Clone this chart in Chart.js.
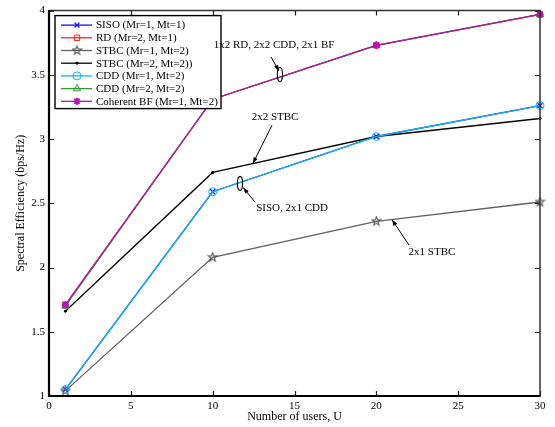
<!DOCTYPE html>
<html>
<head>
<meta charset="utf-8">
<script src="https://cdn.jsdelivr.net/npm/chart.js@4/dist/chart.umd.min.js"></script>
<style>
  html, body { margin: 0; padding: 0; background: #fff; }
  #wrap { width: 555px; height: 427px; }
</style>
</head>
<body>
<div id="wrap"><canvas id="c" width="555" height="427"></canvas></div>
<script>
// Number of users per cell
const users = [1, 10, 20, 30];

// Spectral efficiency (bps/Hz) for each scheme
const siso    = [1.05, 2.59, 3.02, 3.26];
const rd      = [1.71, 3.31, 3.73, 3.97];
const stbc12  = [1.04, 2.08, 2.36, 2.51];
const stbc22  = [1.66, 2.74, 3.02, 3.16];
const cdd12   = [1.05, 2.59, 3.02, 3.26];
const cdd22   = [1.70, 3.31, 3.73, 3.97];
const cohBF   = [1.71, 3.31, 3.73, 3.97];

const seriesNames = [
  'SISO (Mr=1, Mt=1)',
  'RD (Mr=2, Mt=1)',
  'STBC (Mr=1, Mt=2)',
  'STBC (Mr=2, Mt=2))',
  'CDD (Mr=1, Mt=2)',
  'CDD (Mr=2, Mt=2)',
  'Coherent BF (Mr=1, Mt=2)'
];

// Axis ticks
const xTicks = [0, 5, 10, 15, 20, 25, 30];
const yTicks = [1, 1.5, 2, 2.5, 3, 3.5, 4];

// Callout texts, arrows and ellipses in data units (x = users, y = bps/Hz)
const calloutTexts = [
  { text: '1x2 RD, 2x2 CDD, 2x1 BF', x: 13.75, y: 3.73 },
  { text: '2x2 STBC',                x: 13.81, y: 3.168 },
  { text: 'SISO, 2x1 CDD',           x: 14.85, y: 2.461 },
  { text: '2x1 STBC',                x: 23.40, y: 2.119 }
];
const calloutArrows = [
  { x1: 13.56, y1: 3.640, x2: 14.05, y2: 3.530 },
  { x1: 13.62, y1: 3.106, x2: 12.46, y2: 2.811 },
  { x1: 12.59, y1: 2.508, x2: 11.87, y2: 2.622 },
  { x1: 22.00, y1: 2.174, x2: 20.96, y2: 2.372 }
];
const calloutEllipses = [
  { x: 14.11, y: 3.503 },
  { x: 11.67, y: 2.655 }
];

const FONT = "'Liberation Serif', 'Times New Roman', serif";

// Five-pointed star marker
function makePentagram(color, size) {
  const cv = document.createElement('canvas');
  cv.width = size; cv.height = size;
  const g = cv.getContext('2d');
  const cx = size / 2, cy = size / 2, R = size / 2 - 1, r = R * 0.42;
  g.beginPath();
  for (let i = 0; i < 10; i++) {
    const rad = (i % 2 === 0) ? R : r;
    const a = -Math.PI / 2 + i * Math.PI / 5;
    const px = cx + rad * Math.cos(a), py = cy + rad * Math.sin(a);
    if (i === 0) g.moveTo(px, py); else g.lineTo(px, py);
  }
  g.closePath();
  g.strokeStyle = color;
  g.lineWidth = 1.1;
  g.stroke();
  return cv;
}
const starImg = makePentagram('#555555', 11);

function pts(ys) { return users.map((u, i) => ({ x: u, y: ys[i] })); }

const styles = [
  { data: siso,   color: '#1010ff', point: 'crossRot', radius: 3.5, pw: 1.3, order: 6 },
  { data: rd,     color: '#ff2020', point: 'rect',     radius: 3.8, pw: 1.0, order: 5 },
  { data: stbc12, color: '#606060', point: starImg,    radius: 5,   pw: 1.0, order: 4 },
  { data: stbc22, color: '#000000', point: 'circle',   radius: 1.1, pw: 1.0, order: 3, fill: '#000000' },
  { data: cdd12,  color: '#14b4e6', point: 'circle',   radius: 4,   pw: 1.0, order: 2 },
  { data: cdd22,  color: '#2e9a2e', point: 'triangle', radius: 4.2, pw: 1.0, order: 1 },
  { data: cohBF,  color: '#b414b4', point: 'star',     radius: 3.6, pw: 1.8, order: 0 }
];

const datasets = styles.map((s, i) => ({
  label: seriesNames[i],
  data: pts(s.data),
  borderColor: s.color,
  backgroundColor: s.fill || 'rgba(0,0,0,0)',
  borderWidth: 1.3,
  pointStyle: s.point,
  pointRadius: s.radius,
  pointBorderColor: s.color,
  pointBackgroundColor: s.fill || 'rgba(0,0,0,0)',
  pointBorderWidth: s.pw,
  tension: 0,
  clip: false,
  order: s.order
}));

// Frame, inward ticks, legend box and callouts
const decorPlugin = {
  id: 'decor',
  afterDatasetsDraw(chart) {
    const { ctx, chartArea: a, scales: { x, y } } = chart;
    ctx.save();

    // inward ticks on all four sides
    const tl = 5;
    ctx.strokeStyle = '#222';
    ctx.lineWidth = 1.2;
    xTicks.forEach(v => {
      const px = Math.round(x.getPixelForValue(v)) + 0.5;
      ctx.beginPath();
      ctx.moveTo(px, a.bottom); ctx.lineTo(px, a.bottom - tl);
      ctx.moveTo(px, a.top); ctx.lineTo(px, a.top + tl);
      ctx.stroke();
    });
    yTicks.forEach(v => {
      const py = Math.round(y.getPixelForValue(v)) + 0.5;
      ctx.beginPath();
      ctx.moveTo(a.left, py); ctx.lineTo(a.left + tl, py);
      ctx.moveTo(a.right, py); ctx.lineTo(a.right - tl, py);
      ctx.stroke();
    });

    // frame
    ctx.strokeStyle = '#333';
    ctx.lineWidth = 1.5;
    ctx.beginPath();
    ctx.moveTo(a.left, a.top); ctx.lineTo(a.right, a.top); ctx.lineTo(a.right, a.bottom);
    ctx.stroke();
    ctx.strokeStyle = '#000';
    ctx.lineWidth = 2.2;
    ctx.beginPath();
    ctx.moveTo(a.left, a.top - 0.7); ctx.lineTo(a.left, a.bottom); ctx.lineTo(a.right + 0.7, a.bottom);
    ctx.stroke();

    // legend
    const lx = a.left + 6, ly = a.top + 5, lw = 166, lh = 93;
    ctx.fillStyle = '#fff';
    ctx.fillRect(lx, ly, lw, lh);
    ctx.strokeStyle = '#000';
    ctx.lineWidth = 1.4;
    ctx.strokeRect(lx, ly, lw, lh);
    const rowH = 12.7;
    chart.data.datasets.forEach((ds, i) => {
      const ry = ly + 9.5 + i * rowH;
      ctx.strokeStyle = ds.borderColor;
      ctx.lineWidth = 1.3;
      ctx.beginPath(); ctx.moveTo(lx + 6, ry); ctx.lineTo(lx + 37, ry); ctx.stroke();
      ctx.fillStyle = ds.pointBackgroundColor;
      ctx.strokeStyle = ds.pointBorderColor;
      ctx.lineWidth = ds.pointBorderWidth;
      Chart.helpers.drawPoint(ctx, { pointStyle: ds.pointStyle, radius: ds.pointRadius, borderWidth: ds.pointBorderWidth, rotation: 0 }, lx + 22, ry);
      ctx.fillStyle = '#000';
      ctx.font = '11px ' + FONT;
      ctx.textAlign = 'left';
      ctx.textBaseline = 'middle';
      ctx.fillText(ds.label, lx + 41, ry + 0.5);
    });

    // callouts (drawn above the legend)
    ctx.fillStyle = '#000';
    ctx.strokeStyle = '#000';
    ctx.font = '11px ' + FONT;
    ctx.textAlign = 'center';
    ctx.textBaseline = 'middle';
    calloutTexts.forEach(t => ctx.fillText(t.text, x.getPixelForValue(t.x), y.getPixelForValue(t.y)));

    ctx.lineWidth = 1;
    calloutArrows.forEach(ar => {
      const x1 = x.getPixelForValue(ar.x1), y1 = y.getPixelForValue(ar.y1);
      const x2 = x.getPixelForValue(ar.x2), y2 = y.getPixelForValue(ar.y2);
      ctx.beginPath(); ctx.moveTo(x1, y1); ctx.lineTo(x2, y2); ctx.stroke();
      const ang = Math.atan2(y2 - y1, x2 - x1), L = 6, W = 2.2;
      ctx.beginPath();
      ctx.moveTo(x2, y2);
      ctx.lineTo(x2 - L * Math.cos(ang) + W * Math.sin(ang), y2 - L * Math.sin(ang) - W * Math.cos(ang));
      ctx.lineTo(x2 - L * Math.cos(ang) - W * Math.sin(ang), y2 - L * Math.sin(ang) + W * Math.cos(ang));
      ctx.closePath(); ctx.fill();
    });

    ctx.lineWidth = 1.1;
    calloutEllipses.forEach(e => {
      ctx.beginPath();
      ctx.ellipse(x.getPixelForValue(e.x), y.getPixelForValue(e.y), 2.6, 7, 0, 0, Math.PI * 2);
      ctx.stroke();
    });

    ctx.restore();
  }
};

new Chart(document.getElementById('c'), {
  type: 'line',
  data: { datasets },
  options: {
    responsive: false,
    animation: false,
    devicePixelRatio: 1,
    layout: { padding: { left: 0, top: 10, right: 15, bottom: 0 } },
    plugins: { legend: { display: false }, tooltip: { enabled: false } },
    scales: {
      x: {
        type: 'linear', min: 0, max: 30,
        afterBuildTicks: s => { s.ticks = xTicks.map(v => ({ value: v })); },
        afterFit: s => { s.height = 31; },
        grid: { display: false, drawTicks: false },
        border: { display: false },
        ticks: { color: '#000', padding: 4, font: { family: FONT, size: 11 }, callback: v => String(v) },
        title: { display: true, text: 'Number of users, U', color: '#000',
                 font: { family: FONT, size: 12 }, padding: { top: 0, bottom: 3 } }
      },
      y: {
        type: 'linear', min: 1, max: 4,
        afterBuildTicks: s => { s.ticks = yTicks.map(v => ({ value: v })); },
        afterFit: s => { s.width = 49; },
        grid: { display: false, drawTicks: false },
        border: { display: false },
        ticks: { color: '#000', padding: 4, font: { family: FONT, size: 11 }, callback: v => String(v) },
        title: { display: true, text: 'Spectral Efficiency (bps/Hz)', color: '#000',
                 font: { family: FONT, size: 12 }, padding: { top: 14, bottom: 0 } }
      }
    }
  },
  plugins: [decorPlugin]
});
</script>
</body>
</html>
